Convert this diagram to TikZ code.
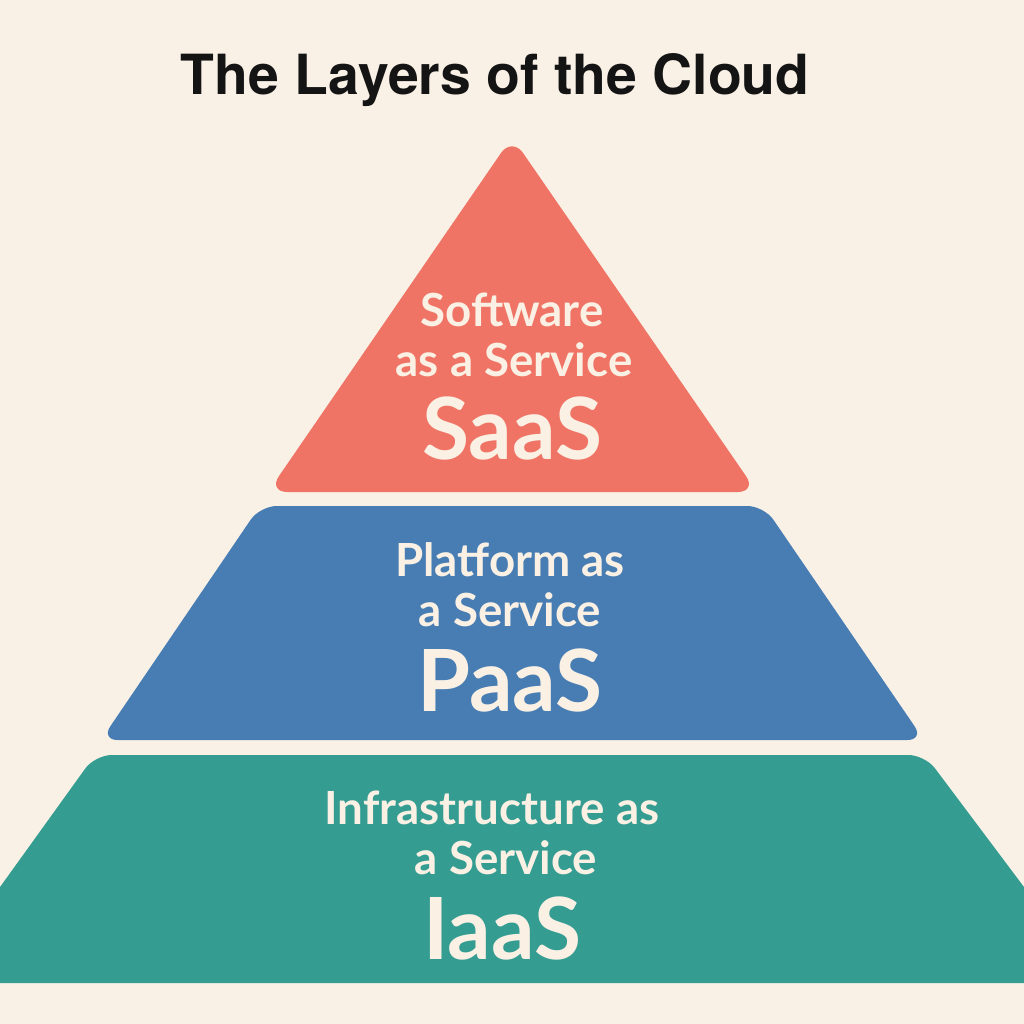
\documentclass[tikz,border=0pt]{standalone}
\usepackage{fontspec}
\setmainfont{TeX Gyre Heros}
\newfontfamily\labelfont{Lato}
\definecolor{bg}{HTML}{F9F1E6}
\definecolor{saasred}{HTML}{F07465}
\definecolor{paasblue}{HTML}{477DB3}
\definecolor{iaasteal}{HTML}{359C92}
\definecolor{cream}{HTML}{FAF0E4}
\definecolor{titleink}{HTML}{141414}
\tikzset{
  layer/.style={rounded corners=12},
  small/.style={text=cream, font=\labelfont\bfseries\fontsize{33}{36}\selectfont, inner sep=0pt},
  big/.style={text=cream, font=\labelfont\bfseries\fontsize{62}{66}\selectfont, inner sep=0pt},
}
\begin{document}
\begin{tikzpicture}[x=0.254mm,y=-0.254mm]
\useasboundingbox (0,0) rectangle (1024,1024);
\clip (0,0) rectangle (1024,1024);
\fill[bg] (0,0) rectangle (1024,1024);
% layers
\fill[saasred,rounded corners=14] (512,137) -- (757,492) -- (268,492) -- cycle;
\fill[paasblue,layer] (260,506) -- (764,506) -- (924,740) -- (101,740) -- cycle;
\fill[iaasteal,layer] (95,755) -- (925,755) -- (1096,983) -- (-69,983) -- cycle;
% title
\node[font=\bfseries\fontsize{40}{44}\selectfont, text=titleink, inner sep=0pt] (title) at (495,80) {The Layers of the Cloud};
% labels
\node[small] (s1) at (512,310) {Software};
\node[small] (s2) at (514,360) {as a Service};
\node[big] (s3) at (512,428) {SaaS};
\node[small] (p1) at (510,560) {Platform as};
\node[small] (p2) at (510,610) {a Service};
\node[big] (p3) at (510,680) {PaaS};
\node[small] (i1) at (492,808) {Infrastructure as};
\node[small] (i2) at (506,858) {a Service};
\node[big] (i3) at (502,928) {IaaS};
\end{tikzpicture}
\end{document}
